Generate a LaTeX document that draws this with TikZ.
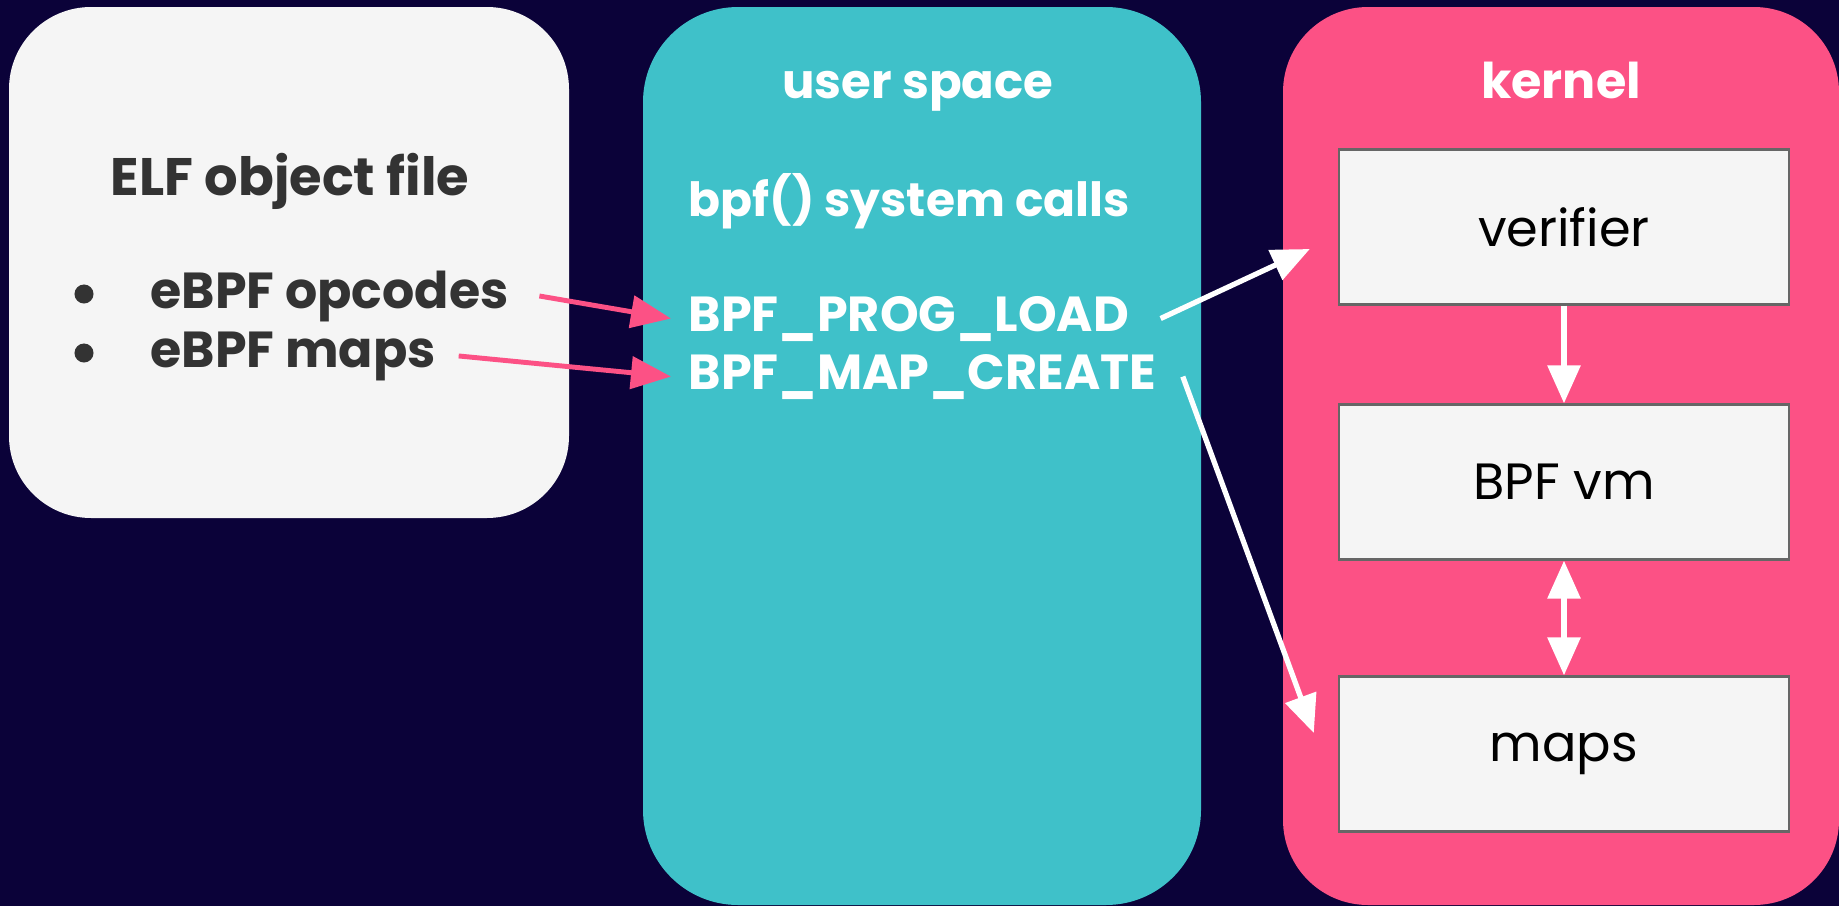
\documentclass[tikz,border=0pt]{standalone}
\usepackage{fontspec}
\setmainfont{Poppins}
\usetikzlibrary{arrows.meta,positioning,calc}

\definecolor{bgnavy}{HTML}{0B0239}
\definecolor{usercyan}{HTML}{3FC1C9}
\definecolor{kernpink}{HTML}{FC5185}
\definecolor{elfgrey}{HTML}{F5F5F5}
\definecolor{darktext}{HTML}{333333}

\tikzset{
  headtext/.style={font=\bfseries\fontsize{14}{16}\selectfont, inner sep=0pt},
  calltext/.style={font=\bfseries\fontsize{14}{17}\selectfont, text=white, inner sep=0pt, anchor=base west},
  bulletdot/.style={circle, fill=darktext, minimum size=0.19cm, inner sep=0pt},
  kbox/.style={draw=black!60, line width=0.6pt, fill=elfgrey, minimum width=4.5cm, minimum height=1.55cm,
    font=\fontsize{14.5}{17}\selectfont},
  pinkarrow/.style={draw=kernpink, line width=1.4pt, -{Triangle[length=0.4cm,width=0.32cm]}},
  whitearrow/.style={draw=white, line width=1.5pt, -{Triangle[length=0.38cm,width=0.32cm]}},
}

\begin{document}
\begin{tikzpicture}[x=0.01cm, y=-0.01cm]
  \useasboundingbox (0,0) rectangle (1839,906);
  \fill[bgnavy] (0,0) rectangle (1839,906);

  % the three areas
  \fill[elfgrey, rounded corners=0.82cm] (9,7) rectangle (569,518);
  \fill[usercyan, rounded corners=0.95cm] (643,7) rectangle (1201,905);
  \fill[kernpink, rounded corners=0.85cm] (1283,7) rectangle (1839,905);

  % ELF object file
  \node[headtext, font=\bfseries\fontsize{15}{18}\selectfont, text=darktext, anchor=base] (elf) at (290,195) {ELF object file};
  \node[bulletdot] (dot1) at (84,294) {};
  \node[bulletdot] (dot2) at (84,353) {};
  \node[headtext, font=\bfseries\fontsize{14.4}{17}\selectfont, text=darktext, anchor=base west] (opcodes) at (150,308) {eBPF opcodes};
  \node[headtext, font=\bfseries\fontsize{14.4}{17}\selectfont, text=darktext, anchor=base west] (elfmaps) at (150,367) {eBPF maps};

  % user space
  \node[headtext, font=\bfseries\fontsize{13.7}{16}\selectfont, text=white, anchor=base] (user) at (918,98) {user space};
  \node[calltext, font=\bfseries\fontsize{13.4}{16}\selectfont] (syscalls) at (688,216) {bpf() system calls};
  \node[calltext] (progload) at (688,331) {BPF\_PROG\_LOAD};
  \node[calltext] (mapcreate) at (688,389) {BPF\_MAP\_CREATE};

  % kernel
  \node[headtext, text=white, anchor=base] (kernel) at (1561,98) {kernel};
  \node[kbox] (verifier) at (1564,227) {verifier};
  \node[kbox] (vm) at (1564,482) {BPF vm};
  \node[kbox] (kmaps) at (1564,754) {maps};

  % loading into the kernel
  \draw[pinkarrow] ([xshift=0.3cm]opcodes.east) -- ([xshift=-0.17cm]progload.west);
  \draw[pinkarrow] ([xshift=0.22cm]elfmaps.east) -- ([xshift=-0.17cm]mapcreate.west);
  \draw[whitearrow] ([xshift=0.31cm]progload.east) -- ($(verifier.west)+(-28,22)$);
  \draw[whitearrow] ([xshift=0.26cm]mapcreate.east) -- ($(kmaps.west)+(-24,-21)$);
  \draw[whitearrow, line width=1.7pt] (verifier) -- (vm);
  \draw[whitearrow, line width=1.7pt, {Triangle[length=0.38cm,width=0.32cm]}-{Triangle[length=0.38cm,width=0.32cm]}] (vm) -- (kmaps);
\end{tikzpicture}
\end{document}
